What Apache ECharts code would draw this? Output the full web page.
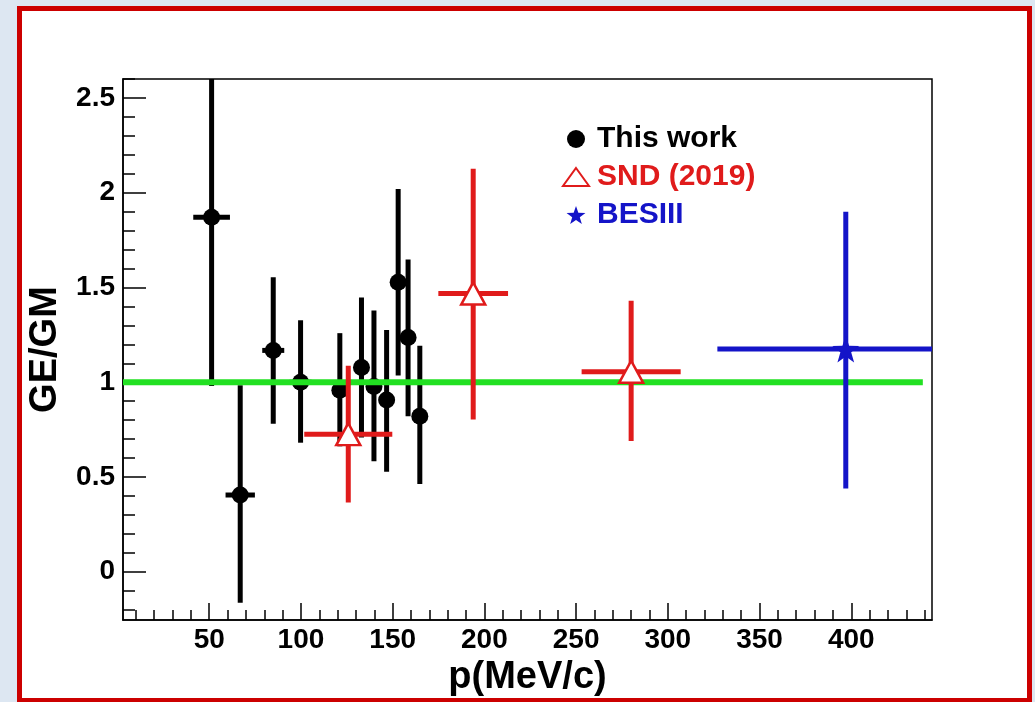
<!DOCTYPE html>
<html><head><meta charset="utf-8">
<script src="https://cdn.jsdelivr.net/npm/echarts@6/dist/echarts.min.js"></script>
<style>
html,body{margin:0;padding:0;background:#dde7f2;width:1035px;height:702px;overflow:hidden;}
#frame{position:absolute;left:17px;top:6px;width:1015px;height:697px;border:5px solid #cc0000;background:#fff;box-sizing:border-box;}
#chart{position:absolute;left:0;top:0;width:1035px;height:702px;}
</style></head><body>
<div id="frame"></div><div id="chart"></div>
<script>
// ---- axis ranges and tick values ----
const xRange = [3, 444];
const yRange = [-0.255, 2.6];
const xMajorTicks = [50, 100, 150, 200, 250, 300, 350, 400];
const xMinorTicks = [10, 20, 30, 40, 60, 70, 80, 90, 110, 120, 130, 140, 160, 170, 180, 190, 210, 220, 230, 240, 260, 270, 280, 290, 310, 320, 330, 340, 360, 370, 380, 390, 410, 420, 430, 440];
const yMajorTicks = [0, 0.5, 1, 1.5, 2, 2.5];
const yMinorTicks = [-0.2, -0.1, 0.1, 0.2, 0.3, 0.4, 0.6, 0.7, 0.8, 0.9, 1.1, 1.2, 1.3, 1.4, 1.6, 1.7, 1.8, 1.9, 2.1, 2.2, 2.3, 2.4, 2.6];

// ---- This work ----
const workP      = [51.3, 66.9, 84.9, 99.8, 121.2, 133.0, 139.8, 146.7, 153.0, 158.4, 164.8];
const workRatio  = [1.87, 0.405, 1.168, 1.0, 0.958, 1.078, 0.978, 0.906, 1.528, 1.236, 0.82];
const workLow    = [0.98, -0.164, 0.781, 0.681, 0.662, 0.709, 0.583, 0.528, 1.035, 0.82, 0.463];
const workHigh   = [2.8, 0.984, 1.554, 1.327, 1.259, 1.447, 1.379, 1.276, 2.02, 1.648, 1.193];
const workPErr   = [10, 8, 6, 6, 4, 4, 4, 4, 4, 4, 4];

// ---- SND (2019) ----
const sndP     = [125.8, 193.9, 280];
const sndRatio = [0.726, 1.468, 1.055];
const sndLow   = [0.365, 0.803, 0.69];
const sndHigh  = [1.087, 2.126, 1.43];
const sndPErr  = [24, 19, 27];

// ---- BESIII ----
const besP     = [397];
const besRatio = [1.175];
const besLow   = [0.44];
const besHigh  = [1.9];
const besPErr  = [70];

// ---- reference line ----
const refLineP = [3, 439];
const refLineValue = 1;

function errData(p, r, lo, hi, pe) {
  return p.map((x, i) => [x, x - pe[i], x + pe[i], lo[i], hi[i], r[i]]);
}
function errRender(color, width) {
  return function (params, api) {
    const x = api.value(0), xl = api.value(1), xh = api.value(2);
    const yl = api.value(3), yh = api.value(4), y = api.value(5);
    const a = api.coord([x, yl]), b = api.coord([x, yh]);
    const c = api.coord([xl, y]), d = api.coord([xh, y]);
    return { type: 'group', children: [
      { type: 'line', shape: { x1: a[0], y1: a[1], x2: b[0], y2: b[1] }, style: { stroke: color, lineWidth: width } },
      { type: 'line', shape: { x1: c[0], y1: c[1], x2: d[0], y2: d[1] }, style: { stroke: color, lineWidth: width } }
    ]};
  };
}
const FONT = 'Liberation Sans';
const starPath = 'path://M0,-10 L2.35,-3.24 9.51,-3.09 3.8,1.24 5.88,8.09 0,4 -5.88,8.09 -3.8,1.24 -9.51,-3.09 -2.35,-3.24Z';
const BLACK = '#000000', RED = '#e01b1b', BLUE = '#1414c8', GREEN = '#22e022';

const chart = echarts.init(document.getElementById('chart'), null, { renderer: 'canvas' });
chart.setOption({
  animation: false,
  backgroundColor: 'transparent',
  grid: { left: 123, right: 103, top: 79, bottom: 70, show: true, borderColor: '#000', borderWidth: 1.5, backgroundColor: 'transparent' },
  legend: {
    orient: 'vertical', left: 557, top: 119, itemWidth: 26, itemHeight: 18, itemGap: 8,
    selectedMode: false,
    textStyle: { fontFamily: FONT, fontWeight: 'bold', fontSize: 30, lineHeight: 30, padding: [0, 0, 0, 3] },
    data: [
      { name: 'This work', textStyle: { color: BLACK } },
      { name: 'SND (2019)', textStyle: { color: RED } },
      { name: 'BESIII', textStyle: { color: BLUE } }
    ]
  },
  xAxis: [{
    type: 'value', min: xRange[0], max: xRange[1], position: 'bottom',
    name: 'p(MeV/c)', nameLocation: 'middle', nameGap: 26,
    nameTextStyle: { fontFamily: FONT, fontWeight: 'bold', fontSize: 38, color: '#000' },
    axisLine: { show: true, onZero: false, lineStyle: { color: '#000', width: 1.5 } },
    axisTick: { show: true, inside: true, length: 17, customValues: xMajorTicks, lineStyle: { color: '#000', width: 1.5 } },
    axisLabel: { customValues: xMajorTicks, margin: 6, fontFamily: FONT, fontWeight: 'bold', fontSize: 28, color: '#000' },
    splitLine: { show: false }
  }, {
    type: 'value', min: xRange[0], max: xRange[1], position: 'bottom',
    axisLine: { show: false, onZero: false },
    axisTick: { show: true, inside: true, length: 10, customValues: xMinorTicks, lineStyle: { color: '#000', width: 1.5 } },
    axisLabel: { show: false }, splitLine: { show: false }
  }],
  yAxis: [{
    type: 'value', min: yRange[0], max: yRange[1], position: 'left',
    name: 'GE/GM', nameLocation: 'middle', nameGap: 58, nameRotate: 90,
    nameTextStyle: { fontFamily: FONT, fontWeight: 'bold', fontSize: 38, color: '#000' },
    axisLine: { show: true, onZero: false, lineStyle: { color: '#000', width: 1.5 } },
    axisTick: { show: true, inside: true, length: 23, customValues: yMajorTicks, lineStyle: { color: '#000', width: 1.5 } },
    axisLabel: { customValues: yMajorTicks, margin: 8, fontFamily: FONT, fontWeight: 'bold', fontSize: 28, color: '#000' },
    splitLine: { show: false }
  }, {
    type: 'value', min: yRange[0], max: yRange[1], position: 'left',
    axisLine: { show: false, onZero: false },
    axisTick: { show: true, inside: true, length: 12, customValues: yMinorTicks, lineStyle: { color: '#000', width: 1.5 } },
    axisLabel: { show: false }, splitLine: { show: false }
  }],
  series: [
    { type: 'custom', name: 'workErr', clip: true, z: 2, renderItem: errRender(BLACK, 5),
      encode: { x: [0, 1, 2], y: [3, 4, 5] }, data: errData(workP, workRatio, workLow, workHigh, workPErr) },
    { type: 'scatter', name: 'This work', z: 3, symbol: 'circle', symbolSize: 17,
      itemStyle: { color: BLACK, opacity: 1 }, data: workP.map((x, i) => [x, workRatio[i]]) },
    { type: 'line', name: 'ref', z: 4, symbol: 'none', lineStyle: { color: GREEN, width: 6 },
      data: refLineP.map(x => [x, refLineValue]) },
    { type: 'custom', name: 'sndErr', clip: true, z: 5, renderItem: errRender(RED, 5),
      encode: { x: [0, 1, 2], y: [3, 4, 5] }, data: errData(sndP, sndRatio, sndLow, sndHigh, sndPErr) },
    { type: 'scatter', name: 'SND (2019)', z: 6, symbol: 'triangle', symbolSize: [24, 22],
      itemStyle: { color: '#ffffff', borderColor: RED, borderWidth: 2.5, opacity: 1 }, data: sndP.map((x, i) => [x, sndRatio[i]]) },
    { type: 'custom', name: 'besErr', clip: true, z: 5, renderItem: errRender(BLUE, 5),
      encode: { x: [0, 1, 2], y: [3, 4, 5] }, data: errData(besP, besRatio, besLow, besHigh, besPErr) },
    { type: 'scatter', name: 'BESIII', z: 6, symbol: starPath, symbolSize: 27,
      itemStyle: { color: BLUE, opacity: 1 }, data: besP.map((x, i) => [x, besRatio[i]]) }
  ]
});
</script></body></html>
